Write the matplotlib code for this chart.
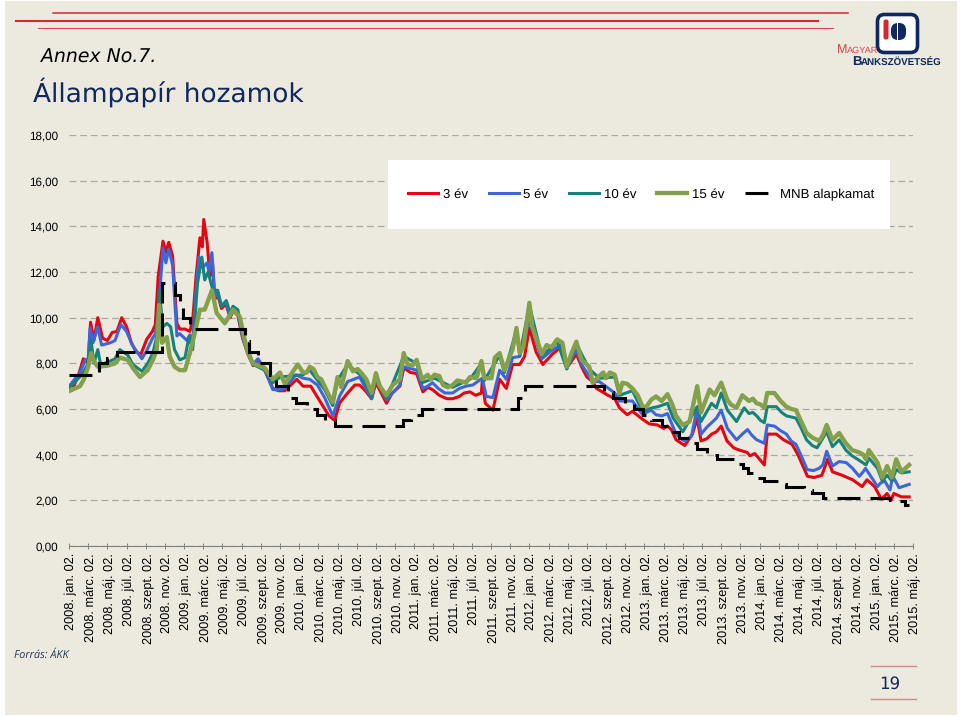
# -*- coding: utf8 -*-

import matplotlib
matplotlib.use('Agg')
from matplotlib import pyplot as plt
from matplotlib.patches import Rectangle, FancyBboxPatch
from matplotlib.transforms import ScaledTranslation

# months counted from 2008. jan. 02.
months_3 = [0, .5, 1, 1.5, 2, 2.25, 2.6, 3, 3.5, 4, 4.5, 5, 5.5, 6, 6.5, 7, 7.5, 8.1, 8.7, 9, 9.3, 9.8, 10.1, 10.4, 10.8,
            11.25, 11.55, 12.1, 12.6, 12.9, 13.25, 13.65, 13.9, 14.05, 14.4, 14.7, 14.95, 15.2, 15.5, 15.9, 16.35, 16.8,
            17.1, 17.6, 18.1, 18.65, 19.2, 19.7, 20.4, 21.25, 21.85, 22.5, 23.75, 24.4, 25.2, 26.3, 27.1, 27.7, 28.2,
            29.05, 29.8, 30.3, 31.55, 32, 33.1, 34.5, 34.9, 36.25, 36.9, 37.9, 39.4, 40.7, 41.8, 43, 43.1, 43.4, 44.2,
            44.9, 45.6, 46.25, 47, 48, 49.4, 50.4, 51.4, 51.9, 52.9, 53.5, 54.6, 55.6, 56.9, 57.4, 58.75, 59.8, 61.35,
            62.4, 63.3, 64.2, 65, 65.5, 65.9, 67, 68, 68.6, 69.9, 71.5, 72.5, 72.8, 73.75, 75.4, 77, 78.5, 79.1, 79.6,
            80.6, 82.7, 83.2, 84.7, 85.3, 85.7, 86, 86.8, 87.6]
yield_3 = [7.05, 7.0, 7.5, 8.2, 8.0, 9.8, 9.0, 10.0, 9.1, 9.0, 9.35, 9.4, 10.0, 9.6, 8.9, 8.5, 8.4, 9.05, 9.4, 9.7, 11.8,
           13.35, 12.85, 13.3, 12.7, 9.75, 9.5, 9.5, 9.4, 9.9, 11.8, 13.5, 13.1, 14.3, 13.3, 11.8, 12.5, 10.8, 11.0, 10.4,
           10.6, 10.0, 10.3, 10.1, 9.1, 8.4, 7.9, 8.15, 7.7, 6.9, 6.8, 6.8, 7.3, 7.0, 7.0, 6.25, 5.7, 5.5, 6.25, 6.7,
           7.05, 7.05, 6.45, 7.15, 6.25, 7.0, 7.8, 7.55, 6.75, 6.85, 6.45, 6.55, 6.75, 6.7, 7.3, 6.25, 5.95, 7.3, 6.9,
           7.95, 7.95, 9.55, 7.95, 8.4, 8.75, 7.8, 8.4, 7.8, 7.2, 6.75, 6.45, 6.05, 5.9, 5.55, 5.3, 5.25, 4.65, 4.4, 4.9,
           5.6, 4.6, 4.9, 5.25, 4.6, 4.2, 4.05, 3.55, 4.9, 4.9, 4.45, 3.05, 3.1, 3.8, 3.25, 3.1, 2.6, 2.9, 2.05, 2.3, 2.0,
           2.3, 2.15, 2.15]
extra_months_3 = [30.9, 33.7, 35.6, 37.4, 38.6, 40, 41.2, 42.4, 47.5, 48.7, 54, 55, 56.2, 58.2, 60.5, 62, 62.8, 66.5, 67.5,
                  69.3, 70.7, 71, 74.5, 76, 77.7, 81.7, 82.2, 84]
extra_yield_3 = [6.8, 6.7, 7.6, 6.95, 6.6, 6.45, 6.7, 6.6, 8.3, 8.5, 7.4, 6.9, 6.6, 5.75, 5.35, 5.15, 5.1, 4.7, 5.0,
                 4.3, 4.1, 3.95, 4.65, 4.0, 3.0, 2.9, 2.75, 2.6]

months_5 = [0, .3, 1.15, 1.7, 2, 2.2, 2.5, 3, 3.4, 4.3, 4.8, 5.4, 6, 6.6, 7.6, 8.1, 8.65, 9, 9.3, 9.8, 10.1, 10.4, 10.8,
            11.25, 11.55, 12.3, 12.6, 12.9, 13.2, 13.55, 13.95, 14.4, 14.6, 14.9, 15.2, 15.5, 15.9, 16.35, 16.8, 17.1,
            17.6, 18.1, 18.65, 19.2, 19.7, 20.4, 21.25, 22, 22.5, 23.65, 24.4, 25.1, 25.9, 26.65, 27.5, 28.2, 29.05,
            30.3, 31.55, 32, 33.1, 34.5, 34.9, 36.25, 36.9, 37.9, 39.2, 40.7, 42.1, 43.1, 43.5, 44.2, 44.9, 45.6, 46.25,
            47, 48, 49.3, 50.3, 51.4, 51.9, 52.9, 53.45, 54.6, 55.3, 56.9, 57.4, 58.75, 59.8, 60.7, 61.8, 62.4, 63.3,
            64.2, 64.9, 65.5, 65.9, 67, 68, 68.65, 69.6, 70.75, 71.7, 72.5, 72.8, 73.55, 74.8, 75.8, 76.95, 78.2, 79, 79.6,
            81.05, 82.4, 83.05, 84.3, 85.05, 85.6, 85.9, 86.55, 87.6]
yield_5 = [6.9, 7.15, 7.6, 8.15, 8.2, 9.55, 8.9, 9.6, 8.8, 8.9, 9.0, 9.7, 9.4, 8.8, 8.2, 8.55, 9.05, 9.3, 10.2, 13.05, 12.4,
           13.0, 12.3, 9.2, 9.3, 9.0, 9.25, 8.95, 10.9, 12.65, 12.2, 12.4, 12.0, 12.85, 10.9, 11.1, 10.5, 10.7, 10.05, 10.4,
           10.2, 9.15, 8.45, 7.95, 8.2, 7.75, 6.85, 6.85, 6.9, 7.5, 7.35, 7.3, 7.05, 6.5, 5.7, 6.55, 7.2, 7.4, 6.45, 7.3,
           6.4, 7.05, 7.85, 7.7, 6.9, 7.15, 6.7, 6.9, 7.05, 7.35, 6.55, 6.5, 7.7, 7.3, 8.25, 8.3, 9.9, 8.2, 8.55, 8.85, 7.8,
           8.6, 7.95, 7.2, 7.2, 6.7, 6.35, 6.35, 5.75, 5.95, 5.7, 5.8, 4.9, 4.6, 4.8, 6.05, 4.9, 5.4, 5.95, 5.15, 4.65, 5.1,
           4.65, 4.5, 5.3, 5.25, 4.9, 4.45, 3.35, 3.4, 4.15, 3.5, 3.65, 3.05, 3.4, 2.6, 2.85, 2.45, 3.05, 2.55, 2.7]
extra_months_5 = [37.4, 38.5, 40, 41.4, 60.2, 61.2, 63.8, 66.5, 67.5, 70.2, 71.2, 74.2, 75.3, 76.4, 77.6, 78.6, 80.3, 81.7,
                  82.8, 84.6]
extra_yield_5 = [7.0, 6.9, 6.7, 7.0, 5.85, 5.75, 4.7, 5.2, 5.6, 4.9, 4.85, 5.05, 4.6, 3.9, 3.3, 3.55, 3.7, 3.4, 3.25, 2.75]

months_10 = [0, .3, 1.35, 2, 2.3, 2.6, 3, 3.3, 4.05, 4.8, 5.3, 6.15, 6.65, 7.6, 8.2, 8.75, 9.3, 9.4, 9.8, 10.2, 10.6, 11,
             11.55, 12.1, 12.5, 12.9, 13.4, 13.85, 14.15, 14.5, 15, 15.5, 15.9, 16.4, 16.8, 17.1, 17.6, 18.1, 18.65,
             19.2, 20.4, 21.25, 22, 23.2, 24.4, 25.1, 26.65, 27.5, 28, 29.05, 30.5, 31.55, 32, 33.1, 34.9, 36.25, 36.8,
             38.1, 40, 41.8, 43, 43.3, 44.9, 45.4, 46.65, 47, 48, 49.3, 50.9, 51.9, 52.9, 54.25, 55.3, 56.9, 57.4, 58.75,
             59.8, 60.8, 62.4, 64, 65.5, 65.9, 67, 67.5, 68, 68.65, 69.6, 70.4, 71.7, 72.5, 72.8, 73.75, 74.8, 75.8, 76.9,
             78, 79, 79.6, 80.3, 81.65, 83.1, 83.4, 84.3, 84.8, 85.3, 85.8, 86.25, 86.8, 87.6]
yield_10 = [6.95, 7.05, 7.5, 8.0, 9.0, 8.0, 8.6, 7.95, 8.05, 8.2, 8.6, 8.35, 7.95, 7.65, 8.0, 8.45, 9.45, 11.2, 9.6, 9.75,
            9.6, 8.6, 8.15, 8.25, 9.15, 8.6, 11.5, 12.65, 11.65, 12.0, 11.2, 11.2, 10.5, 10.75, 10.2, 10.5, 10.35, 9.3, 8.6,
            7.95, 7.7, 7.15, 7.4, 7.45, 7.5, 7.7, 6.85, 6.15, 7.25, 7.95, 7.45, 6.55, 7.4, 6.45, 8.3, 8.0, 7.15, 7.35, 6.95,
            7.3, 8.0, 7.25, 8.35, 7.6, 9.45, 8.35, 10.55, 8.3, 8.95, 7.75, 8.85, 7.75, 7.35, 7.4, 6.6, 6.8, 5.9, 6.05, 6.25,
            5.0, 6.1, 5.45, 6.25, 6.05, 6.7, 5.95, 5.45, 6.05, 5.7, 5.4, 6.1, 6.1, 5.7, 5.6, 4.65, 4.3, 5.0, 4.35, 4.65, 3.95,
            3.55, 3.85, 3.4, 2.85, 3.1, 2.85, 3.35, 3.2, 3.25]
extra_months_10 = [61.4, 63, 70.9, 71.3, 72.1, 74.3, 76.3, 77.5, 81, 82.4]
extra_yield_10 = [6.1, 5.6, 5.8, 5.85, 5.5, 5.85, 5.2, 4.4, 4.2, 3.75]

months_15 = [.1, 1.15, 1.55, 2, 2.3, 2.6, 3, 4.05, 4.8, 5.3, 6.15, 6.65, 7.4, 8.2, 8.75, 9.15, 9.4, 9.7, 10.2, 10.5, 11,
             11.55, 12.1, 12.6, 13.1, 13.65, 14.15, 14.9, 15.4, 16.25, 17.1, 17.8, 18.55, 19.15, 20.4, 21.25, 22, 22.5,
             23.2, 23.85, 24.4, 25.1, 25.9, 26.65, 27.5, 28, 28.4, 29.05, 29.6, 30.5, 31, 31.55, 32, 32.4, 33.1, 33.75,
             34.5, 34.9, 35.3, 36.25, 36.8, 37.4, 38.1, 39, 40, 41, 41.8, 42.5, 43, 43.3, 44.05, 44.4, 44.9, 45.4, 46.25,
             46.65, 47, 47.4, 48, 48.3, 49.3, 49.8, 50.3, 50.9, 51.45, 51.9, 52.4, 52.9, 53.45, 54.25, 54.6, 55.3, 56.9,
             57.4, 57.7, 58.75, 59.8, 60.7, 61.8, 62.4, 63.3, 64, 64.7, 65.5, 65.9, 66.8, 67.3, 68, 68.65, 69.6, 70.2, 71.7,
             72.5, 72.8, 73.55, 74.8, 75.8, 76.9, 78.2, 79, 79.6, 80.3, 81.65, 83.1, 83.4, 84.3, 84.8, 85.3, 85.8, 86.25,
             86.8, 87.6]
yield_15 = [6.8, 7.0, 7.3, 7.85, 8.45, 8.1, 7.85, 7.9, 8.0, 8.25, 8.15, 7.8, 7.4, 7.7, 8.15, 8.6, 10.55, 8.9, 9.15, 8.3, 7.85,
            7.7, 7.7, 8.45, 9.3, 10.35, 10.35, 11.2, 10.2, 9.75, 10.35, 10.05, 8.6, 8.0, 7.8, 7.3, 7.6, 7.1, 7.55, 7.95, 7.6,
            7.85, 7.4, 7.0, 6.3, 7.4, 6.95, 8.1, 7.65, 7.57, 7.3, 6.7, 7.57, 7.0, 6.6, 7.05, 7.3, 8.45, 7.95, 8.15, 7.3, 7.5,
            7.5, 7.05, 7.05, 7.2, 7.4, 7.35, 8.1, 7.35, 7.35, 8.25, 8.45, 7.7, 8.6, 9.55, 8.45, 8.75, 10.65, 9.6, 8.4, 8.8, 8.7,
            9.05, 8.9, 7.85, 8.45, 8.95, 8.15, 7.85, 7.15, 7.45, 7.5, 6.7, 7.15, 6.9, 6.1, 6.4, 6.35, 6.65, 5.7, 5.3, 5.45, 7.0,
            5.85, 6.85, 6.6, 7.15, 6.4, 6.05, 6.6, 6.25, 6.05, 6.7, 6.7, 6.1, 5.95, 4.95, 4.6, 5.3, 4.65, 4.95, 4.2, 3.8, 4.2,
            3.65, 3.0, 3.5, 3.0, 3.8, 3.25, 3.55]
extra_months_15 = [24.8, 25.5, 26.3, 27.1, 30.1, 35.8, 37.7, 38.6, 39.5, 40.5, 41.4, 55.7, 56, 56.4, 58.2, 59.3, 60.2, 61.2,
                   62.9, 69, 70.9, 71.3, 72.1, 74.2, 75.3, 76.3, 77.5, 78.6, 81, 82.4, 82.8]
extra_yield_15 = [7.6, 7.75, 7.3, 6.6, 7.75, 7.9, 7.3, 7.45, 6.95, 7.25, 7.15, 7.6, 7.35, 7.6, 7.1, 6.6, 6.1, 6.55,
                  6.2, 6.2, 6.35, 6.45, 6.2, 6.35, 6.0, 5.5, 4.75, 4.85, 4.5, 4.1, 4.0]

months_mnb = [0, 3.1, 4, 5, 9.7, 11.1, 11.6, 11.9, 12.6, 18.4, 18.75, 19.7, 21, 21.6, 22.8, 23.65, 24.8, 25.9, 26.7, 27.7,
              34.8, 35.7, 36.8, 46.8, 47.5, 55.8, 56.7, 58, 58.9, 59.8, 60.7, 61.8, 62.8, 63.65, 64.7, 65.5, 66.5, 67.6,
              69.5, 70.3, 70.8, 71.7, 72.5, 74, 74.8, 76.6, 77.5, 78.6, 85.6, 86.4, 87.2, 87.6]
rate_mnb = [7.5, 8.0, 8.25, 8.5, 11.5, 11.0, 10.5, 10.0, 9.5, 9.0, 8.5, 8.0, 7.5, 7.0, 6.5, 6.25, 6.0, 5.75, 5.5, 5.25,
            5.5, 5.75, 6.0, 6.5, 7.0, 6.75, 6.5, 6.25, 6.0, 5.75, 5.5, 5.25, 5.0, 4.75, 4.5, 4.25, 4.0, 3.8,
            3.6, 3.4, 3.2, 3.0, 2.85, 2.7, 2.6, 2.45, 2.3, 2.1, 2.0, 1.95, 1.8, 1.8]

month_names = ['jan.', 'márc.', 'máj.', 'júl.', 'szept.', 'nov.']
tick_labels = ['%d. %s 02.' % (y, m) for y in range(2008, 2016) for m in month_names][:45]
y_ticks = [0, 2, 4, 6, 8, 10, 12, 14, 16, 18]

plt.rcParams['font.family'] = ['Liberation Sans', 'DejaVu Sans']
plt.rcParams['text.hinting'] = 'none'

bg = '#ECE9DF'
navy = '#10285E'
red_line = '#D8262F'


def merged(months, values, extra_months, extra_values):
    pairs = sorted(zip(months + extra_months, values + extra_values))
    return [p[0] for p in pairs], [p[1] for p in pairs]


fig = plt.figure(figsize=(9.6, 7.17), dpi=100, facecolor='white')

# page decoration, in pixels
page = fig.add_axes([0, 0, 1, 1], zorder=0)
page.set_xlim(0, 960)
page.set_ylim(717, 0)
page.axis('off')
page.add_patch(Rectangle((5, 1), 952, 714, color=bg, lw=0))
page.plot([53, 848], [13, 13], color=red_line, lw=1.1)
page.plot([16, 818], [20.5, 20.5], color=red_line, lw=1.5)
page.plot([38, 833], [28, 28], color='#DC4A50', lw=0.8)
page.text(41, 63, 'Annex No.7.', family='DejaVu Sans', style='italic', fontsize=13.6, color='black')
page.text(33, 102, 'Állampapír hozamok', family='DejaVu Sans', fontsize=19, color=navy)
page.text(14, 658, 'Forrás: ÁKK', family='Open Sans', style='italic', fontsize=7.8, color='#27375F')
page.text(890, 689, '19', family='DejaVu Sans', fontsize=12, color=navy, ha='center')
page.plot([871, 916], [666, 666], color='#C98C8A', lw=1)
page.plot([871, 916], [699, 699], color='#C98C8A', lw=1)

# logo
page.add_patch(FancyBboxPatch((881, 18), 33, 31, boxstyle='round,pad=3.5,rounding_size=7', fc='white', ec=navy, lw=2.6))
page.add_patch(FancyBboxPatch((884, 20), 4, 19, boxstyle='round,pad=0.5,rounding_size=2', fc='#D8262F', ec='none'))
page.add_patch(FancyBboxPatch((892, 24), 13, 15, boxstyle='round,pad=1,rounding_size=7', fc=navy, ec='none'))
page.add_patch(Rectangle((896.5, 22), 1.5, 19, fc='white', ec='none'))
page.text(837, 53, 'M', fontsize=9, color='#D8454A')
page.text(847, 53, 'AGYAR', fontsize=6.6, color='#D8454A')
page.text(852, 65, 'B', fontsize=9.5, color=navy, weight='bold')
page.text(861, 65, 'ANKSZÖVETSÉG', fontsize=7.0, color=navy, weight='bold')

# chart
left, right, top, bottom = 69, 913, 135, 546
ax = fig.add_axes([left / 960, 1 - bottom / 717, (right - left) / 960, (bottom - top) / 717], zorder=1)
ax.patch.set_alpha(0)

x3, y3 = merged(months_3, yield_3, extra_months_3, extra_yield_3)
x5, y5 = merged(months_5, yield_5, extra_months_5, extra_yield_5)
x10, y10 = merged(months_10, yield_10, extra_months_10, extra_yield_10)
x15, y15 = merged(months_15, yield_15, extra_months_15, extra_yield_15)

ax.plot(x3, y3, color='#E30613', lw=2.2, label='3 év', solid_joinstyle='round')
ax.plot(x5, y5, color='#3F66D8', lw=2.2, label='5 év', solid_joinstyle='round')
ax.plot(x10, y10, color='#15827D', lw=2.2, label='10 év', solid_joinstyle='round')
ax.plot(x15, y15, color='#84A04A', lw=3.1, label='15 év', solid_joinstyle='round')
ax.plot(months_mnb, rate_mnb, color='black', lw=2.2, drawstyle='steps-post', linestyle=(0, (7.5, 3.3)),
        label='MNB alapkamat', dash_joinstyle='miter')

ax.set_xlim(0, 88)
ax.set_ylim(0, 18)
ax.set_yticks(y_ticks)
ax.set_yticklabels(['%d,00' % v for v in y_ticks], fontsize=8.4)
ax.set_xticks(range(0, 89, 2))
ax.set_xticklabels(tick_labels, rotation=90, fontsize=9.2, va='top', ha='center')
ax.tick_params(axis='y', length=0, pad=8)
ax.tick_params(axis='x', length=4, width=0.7, color='#808080', direction='inout', pad=3)
shift = ScaledTranslation(2 / 100, 0, fig.dpi_scale_trans)
for lab in ax.get_xticklabels():
    lab.set_transform(lab.get_transform() + shift)

ax.set_axisbelow(True)
ax.yaxis.grid(True, color='#ABA9A2', lw=0.9, linestyle=(0, (5.5, 3)))
for side in ['top', 'left', 'right']:
    ax.spines[side].set_visible(False)
ax.spines['bottom'].set_color('#808080')
ax.spines['bottom'].set_linewidth(0.8)

# white legend box sits over the grid
ax.add_patch(Rectangle((388, 160), 502, 69, fc='white', ec='none', transform=page.transData, zorder=1))
ax.legend(loc='center', bbox_to_anchor=(641, 194.5), bbox_transform=page.transData, ncol=5, frameon=False,
          fontsize=9.5, handlelength=2.3, handletextpad=0.35, columnspacing=1.55, borderpad=0)

fig.savefig('out.png', dpi=100, facecolor='white')
